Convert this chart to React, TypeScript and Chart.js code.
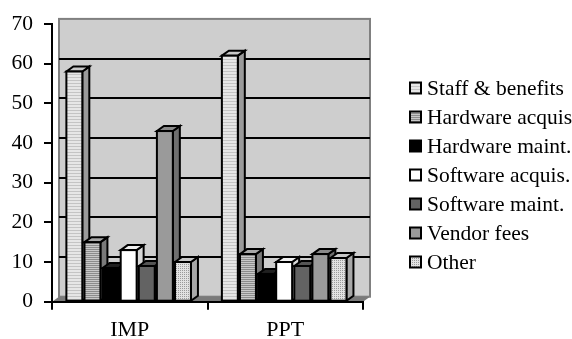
import React, { useEffect, useRef } from 'react';
import { Chart, registerables } from 'chart.js';
Chart.register(...registerables);

const categories = ['IMP', 'PPT'];
const seriesNames = [
  'Staff & benefits',
  'Hardware acquis',
  'Hardware maint.',
  'Software acquis.',
  'Software maint.',
  'Vendor fees',
  'Other',
];
const staffBenefits = [58, 62];
const hardwareAcquis = [15, 12];
const hardwareMaint = [8.5, 7];
const softwareAcquis = [13, 10];
const softwareMaint = [9, 9];
const vendorFees = [43, 12];
const other = [10, 11];
const seriesValues = [staffBenefits, hardwareAcquis, hardwareMaint, softwareAcquis, softwareMaint, vendorFees, other];
const yMin = 0;
const yMax = 70;
const yStep = 10;

const FONT = "'Liberation Serif', 'Times New Roman', serif";

function makePattern(kind: string): CanvasPattern | string {
  const c = document.createElement('canvas');
  const g = c.getContext('2d')!;
  if (kind === 'staff') {
    c.width = 4; c.height = 3;
    g.fillStyle = '#e6e6e6'; g.fillRect(0, 0, 4, 3);
    g.fillStyle = '#c4c4c4'; g.fillRect(0, 2, 4, 1);
  } else if (kind === 'hwacq') {
    c.width = 4; c.height = 2;
    g.fillStyle = '#c8c8c8'; g.fillRect(0, 0, 4, 2);
    g.fillStyle = '#8c8c8c'; g.fillRect(0, 1, 4, 1);
  } else if (kind === 'other') {
    c.width = 2; c.height = 2;
    g.fillStyle = '#e2e2e2'; g.fillRect(0, 0, 2, 2);
    g.fillStyle = '#9a9a9a'; g.fillRect(0, 0, 1, 1);
  }
  const p = g.createPattern(c, 'repeat');
  return p || '#ccc';
}

export default function App() {
  const ref = useRef<HTMLCanvasElement>(null);
  useEffect(() => {
    const fronts: (CanvasPattern | string)[] = [
      makePattern('staff'), makePattern('hwacq'), '#000000', '#ffffff', '#636363', '#9a9a9a', makePattern('other'),
    ];
    const sides = ['#9a9a9a', '#7a7a7a', '#000000', '#d8d8d8', '#444444', '#6e6e6e', '#a8a8a8'];
    const tops = ['#c8c8c8', '#a8a8a8', '#202020', '#f0f0f0', '#555555', '#8a8a8a', '#c8c8c8'];
    const DX = 7, DY = 5;

    const scene = {
      id: 'scene3d',
      beforeDraw(chart: any) {
        const { ctx, chartArea: a } = chart;
        ctx.save();
        ctx.fillStyle = '#cecece';
        ctx.fillRect(a.left + DX, a.top - DY, a.right - a.left, a.bottom - a.top);
        ctx.strokeStyle = '#808080';
        ctx.lineWidth = 2;
        ctx.strokeRect(a.left + DX, a.top - DY, a.right - a.left, a.bottom - a.top);
        const ys = chart.scales.y;
        ctx.strokeStyle = '#000';
        ctx.lineWidth = 2;
        for (let v = yMin + yStep; v < yMax; v += yStep) {
          const py = Math.round(ys.getPixelForValue(v) - DY);
          ctx.beginPath();
          ctx.moveTo(a.left + DX, py);
          ctx.lineTo(a.right + DX, py);
          ctx.stroke();
        }
        ctx.fillStyle = '#7a7a7a';
        ctx.beginPath();
        ctx.moveTo(a.left, a.bottom);
        ctx.lineTo(a.left + DX, a.bottom - DY);
        ctx.lineTo(a.right + DX, a.bottom - DY);
        ctx.lineTo(a.right, a.bottom);
        ctx.closePath();
        ctx.fill();
        ctx.restore();
      },
      afterDatasetsDraw(chart: any) {
        const ctx = chart.ctx;
        ctx.save();
        ctx.lineWidth = 2;
        ctx.strokeStyle = '#000';
        ctx.lineJoin = 'miter';
        for (let i = 0; i < seriesValues.length; i++) {
          const meta = chart.getDatasetMeta(i);
          meta.data.forEach((el: any) => {
            const { x, y, base, width } = el.getProps(['x', 'y', 'base', 'width'], true);
            const left = x - width / 2;
            const fw = width * 0.88;
            const right = left + fw;
            ctx.fillStyle = sides[i];
            ctx.beginPath();
            ctx.moveTo(right, y);
            ctx.lineTo(right + DX, y - DY);
            ctx.lineTo(right + DX, base - DY);
            ctx.lineTo(right, base);
            ctx.closePath();
            ctx.fill();
            ctx.stroke();
            ctx.fillStyle = tops[i];
            ctx.beginPath();
            ctx.moveTo(left, y);
            ctx.lineTo(left + DX, y - DY);
            ctx.lineTo(right + DX, y - DY);
            ctx.lineTo(right, y);
            ctx.closePath();
            ctx.fill();
            ctx.stroke();
            ctx.fillStyle = fronts[i];
            ctx.fillRect(left, y, fw, base - y);
            ctx.strokeRect(left, y, fw, base - y);
          });
        }
        ctx.restore();
      },
      afterDraw(chart: any) {
        const ctx = chart.ctx;
        ctx.save();
        ctx.font = `21.5px ${FONT}`;
        ctx.textBaseline = 'middle';
        ctx.textAlign = 'left';
        const bx = 410, tx = 427, y0 = 88, step = 29, bs = 11;
        seriesNames.forEach((name, i) => {
          const cy = y0 + i * step;
          ctx.fillStyle = fronts[i];
          ctx.fillRect(bx, cy - bs / 2, bs, bs);
          ctx.lineWidth = 2;
          ctx.strokeStyle = '#000';
          ctx.strokeRect(bx, cy - bs / 2, bs, bs);
          ctx.fillStyle = '#000';
          ctx.fillText(name, tx, cy + 1);
        });
        ctx.restore();
      },
    };

    const chart = new Chart(ref.current!, {
      type: 'bar',
      data: {
        labels: categories,
        datasets: seriesValues.map((vals, i) => ({
          label: seriesNames[i],
          data: vals,
          backgroundColor: 'rgba(0,0,0,0)',
          borderWidth: 0,
          categoryPercentage: 0.815,
          barPercentage: 1,
        })),
      },
      options: {
        responsive: false,
        animation: false,
        layout: { padding: { top: 18, right: 209, left: 0, bottom: 0 } },
        plugins: { legend: { display: false }, tooltip: { enabled: false } },
        scales: {
          x: {
            grid: { drawOnChartArea: false, drawTicks: true, tickLength: 8, color: '#000', lineWidth: 2, offset: true },
            border: { color: '#000', width: 2 },
            ticks: { color: '#000', font: { family: FONT, size: 22 }, padding: 7 },
            afterFit(s: any) { s.height = 37.3; },
          },
          y: {
            min: yMin,
            max: yMax,
            grid: { drawOnChartArea: false, drawTicks: true, tickLength: 8, color: '#000', lineWidth: 2 },
            border: { color: '#000', width: 2 },
            ticks: { stepSize: yStep, color: '#000', font: { family: FONT, size: 21.5 }, padding: 11 },
            afterFit(s: any) { s.width = 52; },
          },
        },
      },
      plugins: [scene],
    });
    return () => chart.destroy();
  }, []);
  return (
    <div style={{ position: 'fixed', left: 0, top: 0, width: 572, height: 339, background: '#fff' }}>
      <canvas ref={ref} width={572} height={339} style={{ display: 'block' }} />
    </div>
  );
}
